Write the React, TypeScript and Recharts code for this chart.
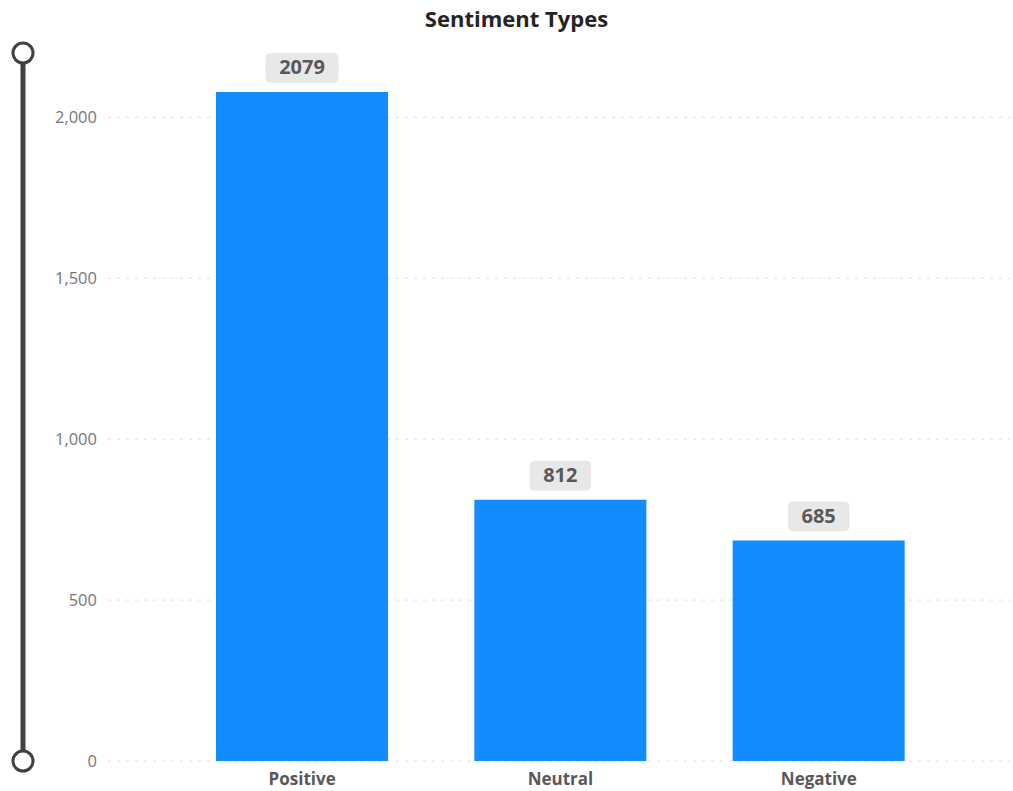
import { BarChart, Bar, XAxis, YAxis, CartesianGrid, LabelList } from 'recharts'

const categories = ['Positive', 'Neutral', 'Negative']
const counts = [2079, 812, 685]
const yTicks = [0, 500, 1000, 1500, 2000]

const data = categories.map((name, i) => ({ name, count: counts[i] }))

const FONT = '"Open Sans", "Noto Sans", sans-serif'

function ValueBadge(props: any) {
  const { x, y, width, value } = props
  const text = String(value)
  const w = text.length * 11.5 + 27
  const h = 30
  const cx = x + width / 2
  const top = y - 9 - h
  return (
    <g>
      <rect x={cx - w / 2} y={top} width={w} height={h} rx={5} fill="#e8e8e8" />
      <text
        x={cx}
        y={top + h / 2 + 1}
        textAnchor="middle"
        dominantBaseline="middle"
        fontFamily={FONT}
        fontWeight={700}
        fontSize={20}
        fill="#595959"
      >
        {text}
      </text>
    </g>
  )
}

export default function App() {
  return (
    <div style={{ position: 'fixed', left: 0, top: 0, width: 1013, height: 791, background: '#fff' }}>
      <div
        style={{
          position: 'absolute',
          top: 3,
          width: 1033,
          textAlign: 'center',
          fontFamily: FONT,
          fontWeight: 700,
          fontSize: 22,
          color: '#252423',
        }}
      >
        Sentiment Types
      </div>
      {/* range slider on the left */}
      <svg style={{ position: 'absolute', left: 0, top: 0 }} width={50} height={791}>
        <line x1={23} y1={63} x2={23} y2={751} stroke="#404040" strokeWidth={5} />
        <circle cx={23} cy={53} r={10} fill="#fff" stroke="#404040" strokeWidth={3} />
        <circle cx={23} cy={761} r={10} fill="#fff" stroke="#404040" strokeWidth={3} />
      </svg>
      <div style={{ position: 'absolute', left: 0, top: 0 }}>
        <BarChart width={1013} height={791} data={data} margin={{ top: 53, right: 3, bottom: 0, left: 0 }}>
          <CartesianGrid vertical={false} horizontalValues={yTicks} stroke="#dcdcdc" strokeDasharray="3 6" />
          <XAxis
            dataKey="name"
            axisLine={false}
            tickLine={false}
            height={30}
            padding={{ left: 65, right: 62 }}
            tick={{ fontFamily: FONT, fontWeight: 700, fontSize: 17, fill: '#595959' }}
            tickMargin={6}
          />
          <YAxis
            width={108}
            domain={[0, 2200]}
            ticks={yTicks}
            axisLine={false}
            tickLine={false}
            tickSize={0}
            tickMargin={11}
            tickFormatter={(v: number) => v.toLocaleString('en-US')}
            tick={{ fontFamily: FONT, fontSize: 16.5, fill: '#777777' }}
          />
          <Bar dataKey="count" fill="#118dff" barSize={172} isAnimationActive={false}>
            <LabelList dataKey="count" content={<ValueBadge />} />
          </Bar>
        </BarChart>
      </div>
    </div>
  )
}
